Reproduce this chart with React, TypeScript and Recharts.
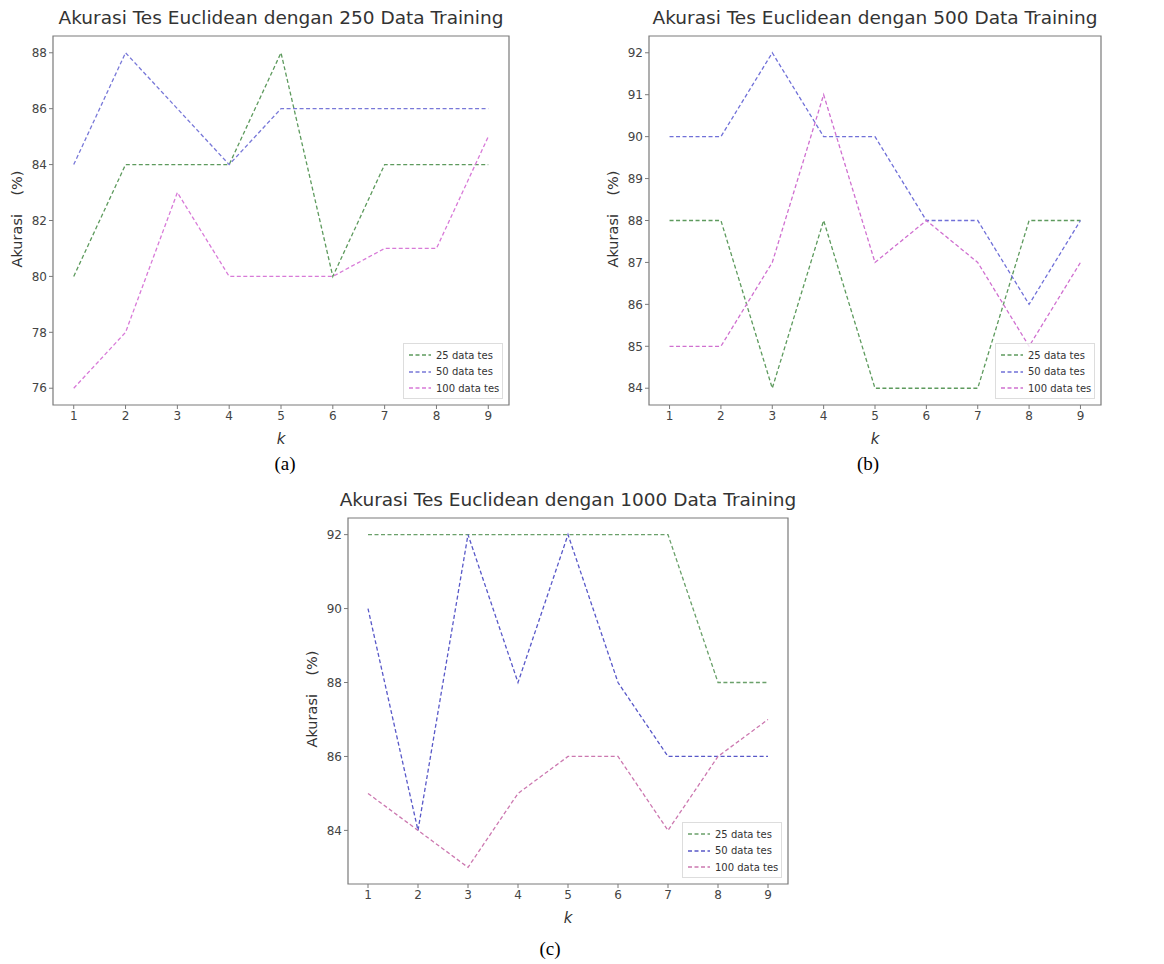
import React from "react";
import { LineChart, Line, XAxis, YAxis, ReferenceArea } from "recharts";

const kValues = [1, 2, 3, 4, 5, 6, 7, 8, 9];
const seriesNames = ["25 data tes", "50 data tes", "100 data tes"];

// 250 data training
const a25 = [80, 84, 84, 84, 88, 80, 84, 84, 84];
const a50 = [84, 88, 86, 84, 86, 86, 86, 86, 86];
const a100 = [76, 78, 83, 80, 80, 80, 81, 81, 85];
const aTicks = [76, 78, 80, 82, 84, 86, 88];

// 500 data training
const b25 = [88, 88, 84, 88, 84, 84, 84, 88, 88];
const b50 = [90, 90, 92, 90, 90, 88, 88, 86, 88];
const b100 = [85, 85, 87, 91, 87, 88, 87, 85, 87];
const bTicks = [84, 85, 86, 87, 88, 89, 90, 91, 92];

// 1000 data training
const c25 = [92, 92, 92, 92, 92, 92, 92, 88, 88];
const c50 = [90, 84, 92, 88, 92, 88, 86, 86, 86];
const c100 = [85, 84, 83, 85, 86, 86, 84, 86, 87];
const cTicks = [84, 86, 88, 90, 92];

const FONT = "'DejaVu Sans', sans-serif";
const FRAME = "#7a7a7a";
const TEXT = "#444";

type Panel = {
  title: string;
  caption: string;
  s25: number[];
  s50: number[];
  s100: number[];
  ticks: number[];
  domain: [number, number];
  plot: { x0: number; x1: number; y0: number; y1: number };
  colors: string[];
  captionPos: { x: number; y: number };
};

function buildData(s25: number[], s50: number[], s100: number[]) {
  return kValues.map((k, i) => ({ k, s25: s25[i], s50: s50[i], s100: s100[i] }));
}

function ChartPanel({ p }: { p: Panel }) {
  const yAxisW = 50;
  const xAxisH = 30;
  const left = p.plot.x0 - yAxisW;
  const top = p.plot.y0 - 5;
  const width = p.plot.x1 - left + 5;
  const height = p.plot.y1 - top + xAxisH;
  const data = buildData(p.s25, p.s50, p.s100);
  const cx = (p.plot.x0 + p.plot.x1) / 2;
  const cy = (p.plot.y0 + p.plot.y1) / 2;
  const keys = ["s25", "s50", "s100"];

  return (
    <>
      <div
        style={{
          position: "absolute",
          left: cx - 300,
          width: 600,
          top: p.plot.y0 - 29,
          textAlign: "center",
          fontFamily: FONT,
          fontSize: 18.5,
          color: "#333",
          whiteSpace: "nowrap",
        }}
      >
        {p.title}
      </div>
      <div
        style={{
          position: "absolute",
          left: p.plot.x0 - 36 - 100,
          top: cy - 10,
          width: 200,
          textAlign: "center",
          transform: "rotate(-90deg)",
          fontFamily: FONT,
          fontSize: 14.5,
          color: "#333",
          whiteSpace: "pre",
        }}
      >
        {"Akurasi    (%)"}
      </div>
      <div
        style={{
          position: "absolute",
          left: cx - 20,
          width: 40,
          top: p.plot.y1 + 25,
          textAlign: "center",
          fontFamily: FONT,
          fontSize: 15,
          fontStyle: "italic",
          color: "#333",
        }}
      >
        k
      </div>
      <div style={{ position: "absolute", left, top }}>
        <LineChart
          width={width}
          height={height}
          data={data}
          margin={{ top: 5, right: 5, bottom: 0, left: 0 }}
        >
          <XAxis
            type="number"
            dataKey="k"
            domain={[0.6, 9.4]}
            ticks={kValues}
            height={xAxisH}
            axisLine={false}
            tickLine={{ stroke: FRAME }}
            tickSize={4}
            tick={{ fontSize: 12, fill: TEXT, fontFamily: FONT }}
          />
          <YAxis
            type="number"
            domain={p.domain}
            ticks={p.ticks}
            width={yAxisW}
            axisLine={false}
            tickLine={{ stroke: FRAME }}
            tickSize={4}
            tick={{ fontSize: 12, fill: TEXT, fontFamily: FONT }}
          />
          <ReferenceArea
            x1={0.6}
            x2={9.4}
            y1={p.domain[0]}
            y2={p.domain[1]}
            fill="none"
            stroke={FRAME}
            strokeWidth={1.2}
            ifOverflow="visible"
          />
          {keys.map((key, i) => (
            <Line
              key={key}
              type="linear"
              dataKey={key}
              name={seriesNames[i]}
              stroke={p.colors[i]}
              strokeWidth={1.3}
              strokeDasharray="4 2.5"
              dot={false}
              isAnimationActive={false}
            />
          ))}
        </LineChart>
      </div>
      <div
        style={{
          position: "absolute",
          left: p.plot.x1 - 106,
          top: p.plot.y1 - 62,
          width: 100,
          height: 56,
          border: "1px solid #ddd",
          background: "rgba(255,255,255,0.8)",
          boxSizing: "border-box",
          padding: "3px 5px",
          fontFamily: FONT,
          fontSize: 10,
          color: "#333",
          whiteSpace: "nowrap",
        }}
      >
        {seriesNames.map((name, i) => (
          <div key={name} style={{ display: "flex", alignItems: "center", height: 16.5 }}>
            <svg width={22} height={6} style={{ marginRight: 5, flexShrink: 0 }}>
              <line
                x1={0}
                y1={3}
                x2={22}
                y2={3}
                stroke={p.colors[i]}
                strokeWidth={1.3}
                strokeDasharray="4 2.5"
              />
            </svg>
            <span>{name}</span>
          </div>
        ))}
      </div>
      <div
        style={{
          position: "absolute",
          left: p.captionPos.x - 30,
          width: 60,
          top: p.captionPos.y - 12,
          textAlign: "center",
          fontFamily: "'Liberation Serif', 'Times New Roman', serif",
          fontSize: 19,
          color: "#000",
        }}
      >
        {p.caption}
      </div>
    </>
  );
}

const panels: Panel[] = [
  {
    title: "Akurasi Tes Euclidean dengan 250 Data Training",
    caption: "(a)",
    s25: a25,
    s50: a50,
    s100: a100,
    ticks: aTicks,
    domain: [75.4, 88.6],
    plot: { x0: 53, x1: 509, y0: 36, y1: 405 },
    colors: ["#5d9a5d", "#7878d8", "#d87ad8"],
    captionPos: { x: 285, y: 465 },
  },
  {
    title: "Akurasi Tes Euclidean dengan 500 Data Training",
    caption: "(b)",
    s25: b25,
    s50: b50,
    s100: b100,
    ticks: bTicks,
    domain: [83.6, 92.4],
    plot: { x0: 649, x1: 1101, y0: 36, y1: 405 },
    colors: ["#5d9a5d", "#7070d8", "#d070d0"],
    captionPos: { x: 868, y: 465 },
  },
  {
    title: "Akurasi Tes Euclidean dengan 1000 Data Training",
    caption: "(c)",
    s25: c25,
    s50: c50,
    s100: c100,
    ticks: cTicks,
    domain: [82.55, 92.45],
    plot: { x0: 348, x1: 788, y0: 518, y1: 884 },
    colors: ["#6aa06a", "#5858c8", "#cc78b0"],
    captionPos: { x: 550, y: 950 },
  },
];

export default function App() {
  return (
    <div
      style={{
        position: "absolute",
        left: 0,
        top: 0,
        width: 1164,
        height: 964,
        background: "#fff",
        overflow: "hidden",
      }}
    >
      {panels.map((p) => (
        <ChartPanel key={p.caption} p={p} />
      ))}
    </div>
  );
}
